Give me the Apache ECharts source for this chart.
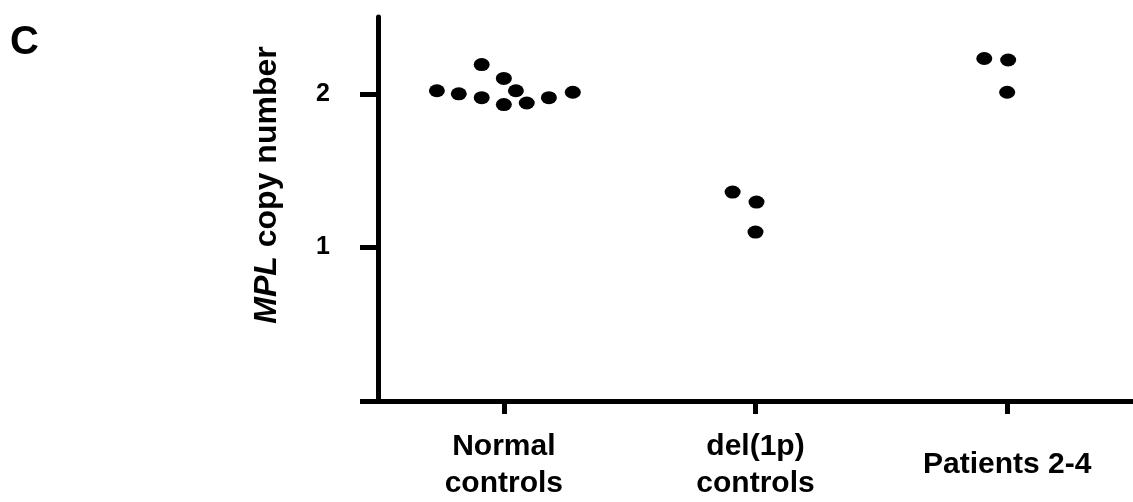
<!DOCTYPE html>
<html>
<head>
<meta charset="utf-8">
<script src="https://cdn.jsdelivr.net/npm/echarts@6/dist/echarts.min.js"></script>
<style>
html,body{margin:0;padding:0;background:#fff;}
#chart{width:1133px;height:502px;}
</style>
</head>
<body>
<div id="chart"></div>
<script>
// Data
const categories = ['Normal\ncontrols', 'del(1p)\ncontrols', 'Patients 2-4'];
const normalValues = [2.02, 2.00, 2.19, 1.975, 2.10, 2.02, 1.93, 1.94, 1.975, 2.01];
const normalJitter = [-0.266, -0.179, -0.088, -0.088, 0, 0.048, 0, 0.091, 0.179, 0.274];
const delValues = [1.36, 1.295, 1.10];
const delJitter = [-0.091, 0.004, 0];
const patientValues = [2.23, 2.22, 2.01];
const patientJitter = [-0.091, 0.004, 0];
const yTicks = [0, 1, 2];
const yLabels = [1, 2];

const groups = [
  { values: normalValues, jitter: normalJitter },
  { values: delValues, jitter: delJitter },
  { values: patientValues, jitter: patientJitter }
];
const points = [];
groups.forEach((g, gi) => {
  g.values.forEach((v, i) => points.push([gi + g.jitter[i], v]));
});

const FONT = '"Liberation Sans", Arial, sans-serif';
const chart = echarts.init(document.getElementById('chart'));
chart.setOption({
  animation: false,
  backgroundColor: '#fff',
  title: {
    text: 'C', left: 5, top: 18,
    textStyle: { fontFamily: FONT, fontSize: 40, fontWeight: 'bold', color: '#000' }
  },
  grid: { left: 378, right: 0, top: 17, bottom: 101, containLabel: false },
  xAxis: [
    {
      type: 'category',
      data: categories,
      boundaryGap: true,
      axisLine: { onZero: false, lineStyle: { color: '#000', width: 5 } },
      axisTick: { show: true, alignWithLabel: true, length: 13, lineStyle: { color: '#000', width: 5 } },
      axisLabel: {
        interval: 0, color: '#000', fontFamily: FONT, fontSize: 30, fontWeight: 'bold',
        lineHeight: 37, verticalAlign: 'middle', margin: 64
      },
      splitLine: { show: false }
    },
    {
      type: 'value', min: -0.5, max: 2.5, show: false,
      splitLine: { show: false }
    }
  ],
  yAxis: {
    type: 'value', min: 0, max: 2.5, interval: 1,
    name: '{i|MPL} copy number',
    nameLocation: 'middle',
    nameGap: 95,
    nameRotate: 90,
    nameTextStyle: {
      color: '#000', fontFamily: FONT, fontSize: 32, fontWeight: 'bold',
      padding: [0, 0, 0, 48],
      rich: { i: { fontStyle: 'italic', fontWeight: 'bold', fontFamily: FONT, fontSize: 32, color: '#000' } }
    },
    axisLine: { show: true, onZero: false, lineStyle: { color: '#000', width: 5 } },
    axisTick: { show: true, length: 18, customValues: yTicks, lineStyle: { color: '#000', width: 5 } },
    axisLabel: {
      customValues: yLabels, color: '#000', fontFamily: FONT, fontSize: 25, fontWeight: 'bold', margin: 48
    },
    splitLine: { show: false }
  },
  series: [{
    type: 'scatter',
    xAxisIndex: 1,
    data: points,
    symbol: 'circle',
    symbolSize: [16, 13],
    itemStyle: { color: '#000', opacity: 1 }
  }]
});
</script>
</body>
</html>
